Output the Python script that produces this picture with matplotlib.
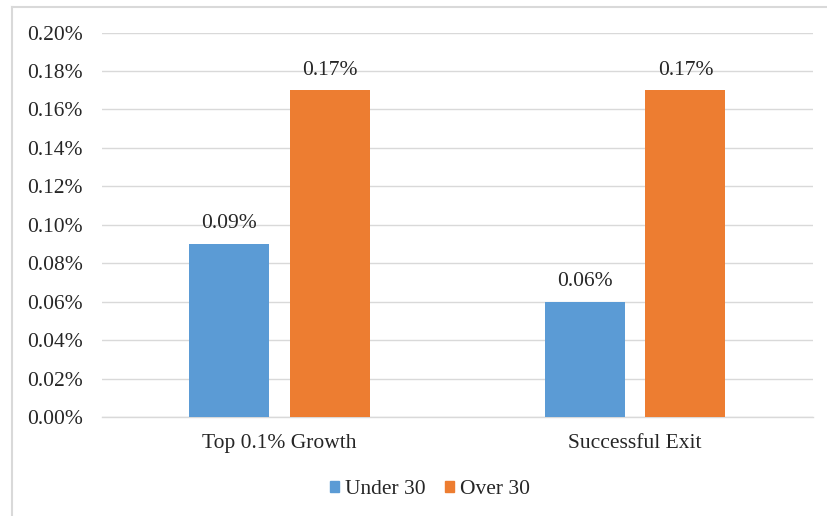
import matplotlib
matplotlib.use("Agg")
import matplotlib.pyplot as plt
from matplotlib.patches import Rectangle
from matplotlib.lines import Line2D
import numpy as np

categories = ["Top 0.1% Growth", "Successful Exit"]
under30 = [0.09, 0.06]
over30 = [0.17, 0.17]
series_names = ["Under 30", "Over 30"]
colors = ["#5B9BD5", "#ED7D31"]
yticks = [0.00, 0.02, 0.04, 0.06, 0.08, 0.10, 0.12, 0.14, 0.16, 0.18, 0.20]

plt.rcParams['font.family'] = ['Liberation Serif', 'DejaVu Serif']
FS = 15.5

W, H = 827, 516
fig = plt.figure(figsize=(W/100, H/100), dpi=100)

# plot area in pixels
L, R, T, B = 101.75, 812.75, 32.5, 417
ax = fig.add_axes([L/W, 1 - B/H, (R-L)/W, (B-T)/H])

x = np.arange(len(categories))
bw = 0.225
off = 0.142
b1 = ax.bar(x - off, under30, bw, color=colors[0], label=series_names[0], zorder=3)
b2 = ax.bar(x + off, over30, bw, color=colors[1], label=series_names[1], zorder=3)

for bars, vals in ((b1, under30), (b2, over30)):
    for rect, v in zip(bars, vals):
        ax.annotate(f"{v:.2f}%", (rect.get_x() + rect.get_width()/2, v),
                    xytext=(0, 20), textcoords="offset pixels",
                    ha="center", va="center", fontsize=FS, color="#262626")

ax.set_xlim(-0.5, len(categories) - 0.5)
ax.set_ylim(0, 0.20)
ax.set_yticks(yticks)
ax.set_yticklabels([f"{t:.2f}%" for t in yticks], fontsize=FS, color="#262626")
ax.set_xticks(x)
ax.set_xticklabels(categories, fontsize=FS, color="#262626")
ax.tick_params(axis="both", length=0)
ax.tick_params(axis="y", pad=13.5)
ax.tick_params(axis="x", pad=12.5)
ax.yaxis.grid(True, color="#D9D9D9", linewidth=1, zorder=0)
ax.set_axisbelow(True)
for s in ("left", "right", "top"):
    ax.spines[s].set_visible(False)
ax.spines["bottom"].set_color("#D9D9D9")
ax.spines["bottom"].set_linewidth(1)

# legend
handles = [Rectangle((0, 0), 1, 1, color=c) for c in colors]
leg = fig.legend(handles, series_names, loc="center", bbox_to_anchor=(430/W, 1 - 490/H),
                 ncol=2, frameon=False, fontsize=FS, handlelength=0.42, handleheight=0.42,
                 handletextpad=0.3, columnspacing=0.9)
for t in leg.get_texts():
    t.set_color("#262626")

# chart border (left and top visible)
fig.add_artist(Line2D([11.5/W, 11.5/W], [0, 1 - 6.5/H], transform=fig.transFigure,
                      color="#D9D9D9", linewidth=1.5))
fig.add_artist(Line2D([11.5/W, 1], [1 - 6.5/H, 1 - 6.5/H], transform=fig.transFigure,
                      color="#D9D9D9", linewidth=1.5))

fig.savefig("out.png", dpi=100, facecolor="white")
